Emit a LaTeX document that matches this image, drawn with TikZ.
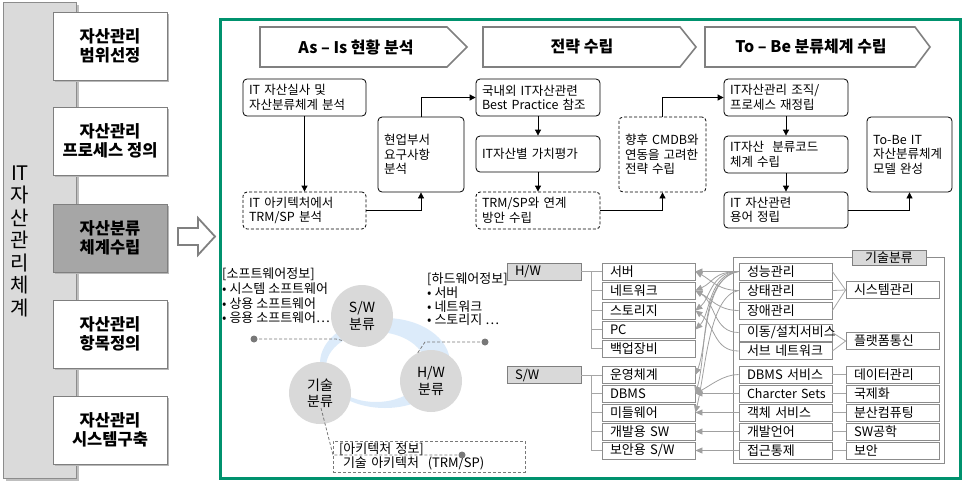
\documentclass[tikz,border=0pt]{standalone}
\usepackage{fontspec}
\setmainfont{Noto Sans CJK KR}
\usetikzlibrary{arrows.meta,calc}
\definecolor{frameg}{RGB}{0,146,110}
\definecolor{panelfill}{RGB}{218,218,218}
\definecolor{panelbd}{RGB}{140,140,140}
\definecolor{boxbd}{RGB}{127,127,127}
\definecolor{hlfill}{RGB}{166,166,166}
\definecolor{chevbd}{RGB}{128,128,128}
\definecolor{circfill}{RGB}{217,217,217}
\definecolor{ringc}{RGB}{220,235,250}
\definecolor{dashc}{RGB}{120,120,120}
\definecolor{itembd}{RGB}{140,140,140}
\definecolor{tlinec}{RGB}{166,166,166}
\definecolor{curvec}{RGB}{160,160,160}
\definecolor{hdrfill}{RGB}{217,217,217}
\newcommand{\myfs}[2]{\fontsize{#1}{#2}\selectfont}
\begin{document}
\begin{tikzpicture}[x=1pt,y=-1pt,
  lbox/.style={draw=boxbd, line width=0.8pt, fill=white, minimum width=114pt, minimum height=68pt, align=center, font=\myfs{16.5}{19}\bfseries, inner sep=0pt, preaction={fill=black!28, transform canvas={xshift=2pt,yshift=-2pt}}},
  chev/.style={draw=chevbd, line width=1.6pt, fill=white},
  chevtext/.style={font=\myfs{16}{18}\bfseries, inner sep=0pt},
  tbox/.style={draw=black, line width=0.8pt, rounded corners=4pt, fill=white, align=left, font=\myfs{12.5}{14.5}, inner xsep=6pt, inner ysep=0pt},
  dbox/.style={tbox, dash pattern=on 3pt off 2pt},
  arr/.style={line width=0.8pt, -{Triangle[length=6pt,width=6pt]}},
  circ/.style={circle, fill=circfill, minimum size=62pt, inner sep=0pt, align=center, font=\myfs{14}{16.5}},
  dline/.style={draw=dashc, line width=0.8pt, dash pattern=on 3pt off 2pt},
  dot/.style={circle, fill=dashc, minimum size=7pt, inner sep=0pt},
  info/.style={align=left, font=\myfs{13}{14.6}, inner sep=0pt},
  item/.style={draw=itembd, line width=0.8pt, fill=white, minimum width=93pt, minimum height=17pt, text width=77pt, inner xsep=8pt, inner ysep=0pt, align=left, font=\myfs{13}{14}},
  cat/.style={item, fill=hdrfill, draw=boxbd, minimum width=74pt, text width=58pt},
  tline/.style={draw=tlinec, line width=0.8pt},
  carr/.style={draw=curvec, line width=0.8pt, -{Triangle[length=7pt,width=6pt]}}
]
\useasboundingbox (0,0) rectangle (964,483);

% ---------- left panel ----------
\fill[black!25] (6,5) rectangle (79,481);
\draw[draw=panelbd, fill=panelfill, line width=0.8pt] (3,2) rectangle (76,478);
\node[font=\myfs{20}{22.5}, align=center, inner sep=0pt] (vt) at (20,241) {IT\\자\\산\\관\\리\\체\\계};
\node[lbox] (p1) at (110,46) {자산관리\\범위선정};
\node[lbox] (p2) at (110,141) {자산관리\\프로세스 정의};
\node[lbox, fill=hlfill] (p3) at (110,238) {자산분류\\체계수립};
\node[lbox] (p4) at (110,334) {자산관리\\항목정의};
\node[lbox] (p5) at (110,430) {자산관리\\시스템구축};

% hollow block arrow
\draw[draw=chevbd, line width=1.8pt, fill=white, line join=miter] (178,228) -- (198,228) -- (198,218) -- (215,236.5) -- (198,255) -- (198,245) -- (178,245) -- cycle;

% ---------- green frame ----------
\draw[frameg, line width=3pt] (220.5,19) rectangle (960.5,478);

% ---------- header chevrons ----------
\draw[chev] (260,27) -- (447,27) -- (467,47) -- (447,67) -- (260,67) -- cycle;
\node[chevtext] (h1) at (356,47) {As – Is 현황 분석};
\draw[chev] (483,27) -- (680,27) -- (696,47) -- (680,67) -- (483,67) -- cycle;
\node[chevtext] (h2) at (582,47) {전략 수립};
\draw[chev] (705,27) -- (915,27) -- (930,47) -- (915,67) -- (705,67) -- cycle;
\node[chevtext] (h3) at (811,47) {To – Be 분류체계 수립};

% ---------- top flow ----------
\node[tbox, minimum width=123pt, minimum height=37pt, text width=111pt] (A1) at (304.5,97.5) {IT 자산실사 및\\자산분류체계 분석};
\node[dbox, minimum width=123pt, minimum height=37pt, text width=111pt] (A2) at (304.5,210.5) {IT 아키텍처에서\\TRM/SP 분석};
\node[tbox, minimum width=86pt, minimum height=75pt, text width=74pt] (A3) at (421,154.5) {현업부서\\요구사항\\분석};
\node[tbox, minimum width=124pt, minimum height=37pt, text width=112pt] (B1) at (538,97.5) {국내외 IT자산관련\\Best Practice 참조};
\node[tbox, minimum width=124pt, minimum height=36pt, text width=112pt] (B2) at (538,154) {IT자산별 가치평가};
\node[dbox, minimum width=124pt, minimum height=37pt, text width=112pt] (B3) at (538,210.5) {TRM/SP와 연계\\방안 수립};
\node[dbox, minimum width=87pt, minimum height=75pt, text width=75pt] (B4) at (662.5,154.5) {향후 CMDB와\\연동을 고려한\\전략 수립};
\node[tbox, minimum width=124pt, minimum height=37pt, text width=112pt] (C1) at (786,97.5) {IT자산관리 조직/\\프로세스 재정립};
\node[tbox, minimum width=124pt, minimum height=37pt, text width=112pt] (C2) at (786,154.5) {IT자산\ \ 분류코드\\체계 수립};
\node[tbox, minimum width=124pt, minimum height=36pt, text width=112pt] (C3) at (786,210) {IT 자산관련\\용어 정립};
\node[tbox, minimum width=85pt, minimum height=75pt, text width=73pt] (C4) at (909.5,154.5) {To-Be IT\\자산분류체계\\모델 완성};

\draw[arr] (A1.south) -- (A2.north);
\draw[arr] (A2.east) -| (A3.south);
\draw[arr] (A3.north) |- (B1.west);
\draw[arr] (B1.south) -- (B2.north);
\draw[arr] (B2.south) -- (B3.north);
\draw[arr] (B3.east) -| (B4.south);
\draw[arr] (B4.north) |- (C1.west);
\draw[arr] (C1.south) -- (C2.north);
\draw[arr] (C2.south) -- (C3.north);
\draw[arr] (C3.east) -| (C4.south);

% ---------- bottom left: classification cycle ----------
\fill[ringc, even odd rule] (385,363) ellipse [x radius=65pt, y radius=45pt] (376,367) ellipse [x radius=50pt, y radius=35pt];
\node[circ] (cs) at (362,316) {S/W\\분류};
\node[circ] (ch) at (431,381) {H/W\\분류};
\node[circ] (ct) at (320,393) {기술\\분류};

\node[info, anchor=north west] (swinfo) at (222,268) {[소프트웨어정보]\\• 시스템 소프트웨어\\• 상용 소프트웨어\\• 응용 소프트웨어…};
\node[info, anchor=north west, font=\myfs{13}{13.6}] (hwinfo) at (427,273) {[하드웨어정보]\\• 서버\\• 네트워크\\• 스토리지 …};

\node[dot] (d1) at (254,339) {};
\draw[dline] (d1.center) -- (336,339) -- (cs.232);
\node[dot] (d2) at (485,342) {};
\draw[dline] (d2.center) -- (425,342) -- (ch.115);

\node[draw=dashc, line width=0.8pt, dash pattern=on 3pt off 2pt, minimum width=192pt, minimum height=31pt, text width=180pt, inner xsep=6pt, inner ysep=0pt, align=left, font=\myfs{13}{14}] (ab) at (429,456.5) {[아키텍처 정보]\\\hspace*{4pt}기술 아키텍처 \ (TRM/SP)};
\coordinate (t1) at ($(ct.center)+(1,15)$);
\node[dot] (d3) at (462,455) {};
\draw[dline] (t1) -- (333,455) -- (d3.center);

% ---------- bottom right: tree ----------
\node[cat] (hw) at (544,271.5) {H/W};
\node[cat] (sw) at (544,375) {S/W};

\node[item] (l1) at (648.5,271.5) {서버};
\node[item] (l2) at (648.5,290.5) {네트워크};
\node[item] (l3) at (648.5,310.5) {스토리지};
\node[item] (l4) at (648.5,329.5) {PC};
\node[item] (l5) at (648.5,348.5) {백업장비};
\node[item] (s1) at (648.5,375) {운영체계};
\node[item] (s2) at (648.5,393.5) {DBMS};
\node[item] (s3) at (648.5,412.5) {미들웨어};
\node[item] (s4) at (648.5,431.5) {개발용 SW};
\node[item] (s5) at (648.5,450.5) {보안용 S/W};

\draw[tline] (hw.east) -- ++(10,0) coordinate (hwj);
\draw[tline] (hwj) |- (l5.west);
\foreach \n in {l1,l2,l3,l4} \draw[tline] (hwj |- \n.west) -- (\n.west);
\draw[tline] (sw.east) -- ++(10,0) coordinate (swj);
\draw[tline] (swj) |- (s5.west);
\foreach \n in {s1,s2,s3,s4} \draw[tline] (swj |- \n.west) -- (\n.west);

% group 기술분류
\draw[draw=itembd, line width=0.8pt] (733,257) rectangle (944,463);
\node[cat, minimum width=74pt, minimum height=15pt, text width=58pt, align=center] (tt) at (889,257.5) {기술분류};

\node[item] (m1) at (785.5,271.5) {성능관리};
\node[item] (m2) at (785.5,290.5) {상태관리};
\node[item] (m3) at (785.5,310.5) {장애관리};
\node[item] (m4) at (785.5,332.5) {\mbox{이동/설치서비스}};
\node[item] (m5) at (785.5,351) {서브 네트워크};
\node[item] (m6) at (785.5,374.5) {DBMS 서비스};
\node[item, font=\myfs{12.5}{14}] (m7) at (785.5,393.5) {\mbox{Charcter Sets}};
\node[item] (m8) at (785.5,412.5) {객체 서비스};
\node[item] (m9) at (785.5,431.5) {개발언어};
\node[item] (m10) at (785.5,450.5) {접근통제};

\node[item] (r1) at (892.5,290) {시스템관리};
\node[item] (r2) at (892.5,341) {플랫폼통신};
\node[item] (r3) at (892.5,374.5) {데이터관리};
\node[item] (r4) at (892.5,393.5) {국제화};
\node[item] (r5) at (892.5,412.5) {분산컴퓨팅};
\node[item] (r6) at (892.5,431.5) {SW공학};
\node[item] (r7) at (892.5,450.5) {보안};

\draw[tline] (m1.east) -- (r1.west);
\draw[tline] (m2.east) -- (r1.west);
\draw[tline] (m3.east) -- (r1.west);
\draw[tline] (m4.east) -- (r2.west);
\draw[tline] (m5.east) -- (r2.west);
\draw[tline] (m6.east) -- (r3.west);
\draw[tline] (m7.east) -- (r4.west);
\draw[tline] (m8.east) -- (r5.west);
\draw[tline] (m9.east) -- (r6.west);
\draw[tline] (m10.east) -- (r7.west);

% curved arrows
\draw[carr] (m1.west) -- (l1.east);
\draw[carr] (m1.west) .. controls +(-25,0) and +(18,-8) .. (l2.east);
\draw[carr] (m1.west) .. controls +(-28,0) and +(15,-12) .. (l3.east);
\draw[carr] (m1.west) .. controls +(-30,2) and +(15,-15) .. (l4.east);
\draw[carr] (m1.west) .. controls +(-35,5) and +(12,-30) .. (s1.east);
\draw[carr] (m1.west) .. controls +(-40,8) and +(12,-40) .. (s2.east);
\draw[carr] (m2.west) .. controls +(-20,0) and +(15,8) .. (l1.east);
\draw[carr] (m2.west) .. controls +(-30,5) and +(10,-40) .. (s3.east);
\draw[carr] (m3.west) .. controls +(-20,0) and +(15,8) .. (l2.east);
\draw[carr] (m4.west) .. controls +(-25,0) and +(20,12) .. (l2.east);
\draw[carr] (m5.west) .. controls +(-25,0) and +(20,15) .. (l3.east);
\draw[carr] (m6.west) .. controls +(-15,0) and +(15,-8) .. (s2.east);
\draw[carr] (m7.west) -- (s2.east);
\draw[carr] (m8.west) -- (s3.east);
\draw[carr] (m9.west) -- (s4.east);
\draw[carr] (m10.west) -- (s5.east);
\end{tikzpicture}
\end{document}
